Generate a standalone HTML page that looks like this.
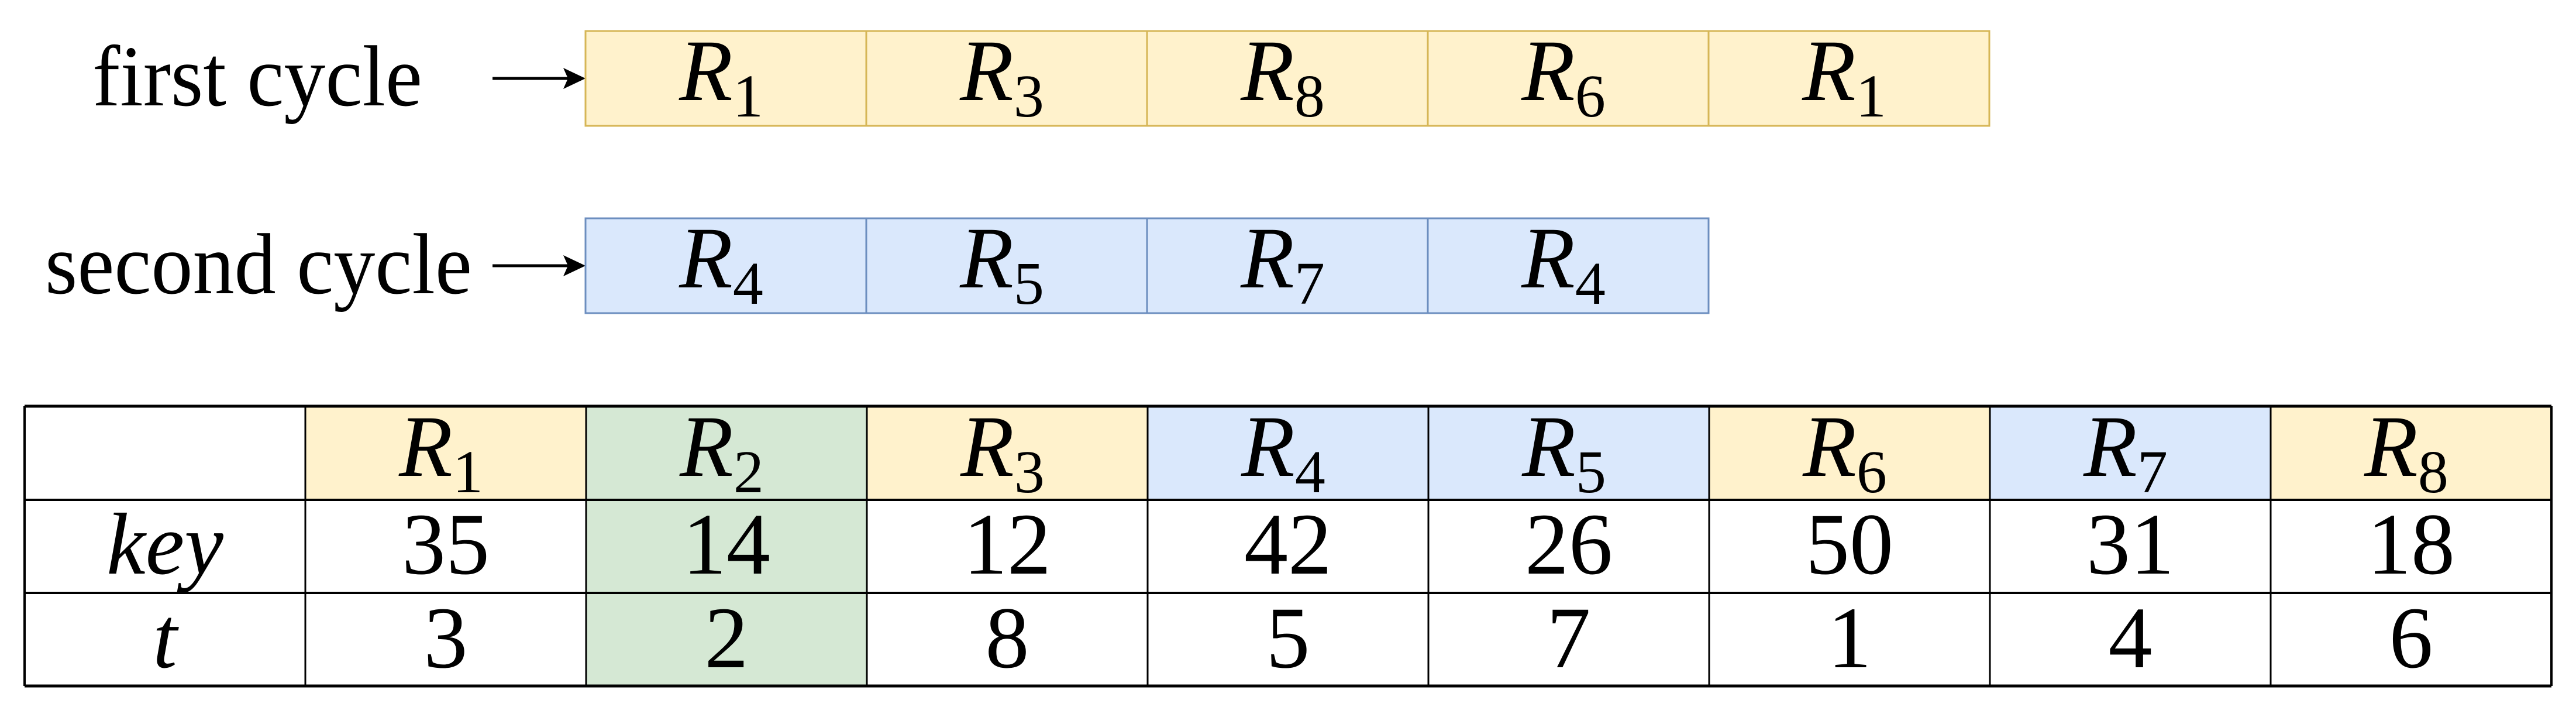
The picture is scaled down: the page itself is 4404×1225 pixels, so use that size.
<!DOCTYPE html>
<html><head><meta charset="utf-8"><style>
html,body{margin:0;padding:0;background:#fff;}
svg, svg text, svg tspan{font-family:"Liberation Serif","Times New Roman","DejaVu Serif",serif;}
</style></head><body>
<svg id="fig" width="4404" height="1220" viewBox="0 0 4404 1220" xmlns="http://www.w3.org/2000/svg" font-family="'Liberation Serif', 'DejaVu Serif', serif">
<g><text x="158" y="180" font-size="148" textLength="564" lengthAdjust="spacingAndGlyphs">first cycle</text></g>
<g><text x="77" y="501" font-size="148" textLength="730" lengthAdjust="spacingAndGlyphs">second cycle</text></g>
<g><line x1="842" y1="134" x2="975" y2="134" stroke="#000" stroke-width="5"/><path d="M1001,134 L963,116 L971,134 L963,152 Z" fill="#000"/></g>
<g><line x1="842" y1="454" x2="975" y2="454" stroke="#000" stroke-width="5"/><path d="M1001,454 L963,436 L971,454 L963,472 Z" fill="#000"/></g>
<g id="cycles"></g>
<g id="table"></g>
</svg>
<script>
const cycle1 = [1, 3, 8, 6, 1];
const cycle2 = [4, 5, 7, 4];
const regs = [1, 2, 3, 4, 5, 6, 7, 8];
const keys = [35, 14, 12, 42, 26, 50, 31, 18];
const times = [3, 2, 8, 5, 7, 1, 4, 6];
const groups = ['y', 'g', 'y', 'b', 'b', 'y', 'b', 'y'];

const NS = 'http://www.w3.org/2000/svg';
const FONT = "'Liberation Serif', 'DejaVu Serif', serif";
const fills = {y: '#fff2cc', b: '#dae8fc', g: '#d5e8d4', w: '#ffffff'};
function mk(tag, attrs, parent) {
  const e = document.createElementNS(NS, tag);
  for (const k in attrs) e.setAttribute(k, attrs[k]);
  if (tag === 'text') e.setAttribute('font-family', FONT);
  parent.appendChild(e);
  return e;
}
function rLabel(parent, cx, base, n) {
  const t = mk('text', {x: cx - 8, y: base, 'font-size': 150, 'text-anchor': 'middle'}, parent);
  const a = mk('tspan', {'font-style': 'italic'}, t); a.textContent = 'R';
  const b = mk('tspan', {'font-size': 104, dy: 28}, t); b.textContent = String(n);
  return t;
}
const cg = document.getElementById('cycles');
function drawCycle(arr, top, bottom, fill, stroke, name) {
  const g = mk('g', {}, cg);
  
  
  arr.forEach((v, i) => {
    const x = 1001 + i * 480;
    const c = mk('g', {}, g);
    
    
    mk('rect', {x: x, y: top, width: 480, height: bottom - top, fill: fill, stroke: stroke, 'stroke-width': 3}, c);
    rLabel(c, x + 240, top + 118, v);
  });
}
drawCycle(cycle1, 53, 215, fills.y, '#d6b656', 'first-cycle-row');
drawCycle(cycle2, 373, 535, fills.b, '#6c8ebf', 'second-cycle-row');

const tg = document.getElementById('table');


const rowY = [694, 854, 1013, 1172];
const colX = i => 522 + i * 480;
regs.forEach((r, i) => {
  const x = colX(i);
  const gf = groups[i];
  const hf = fills[gf];
  const bf = gf === 'g' ? fills.g : fills.w;
  const hc = mk('g', {}, tg);
  
  
  mk('rect', {x: x, y: rowY[0], width: 480, height: rowY[1] - rowY[0], fill: hf}, hc);
  rLabel(hc, x + 240, rowY[0] + 119, r);
  const kc = mk('g', {}, tg);
  
  
  mk('rect', {x: x, y: rowY[1], width: 480, height: rowY[2] - rowY[1], fill: bf}, kc);
  const kt = mk('text', {x: x + 240, y: rowY[1] + 126, 'font-size': 150, 'text-anchor': 'middle'}, kc);
  kt.textContent = String(keys[i]);
  const tc = mk('g', {}, tg);
  
  
  mk('rect', {x: x, y: rowY[2], width: 480, height: rowY[3] - rowY[2], fill: bf}, tc);
  const tt = mk('text', {x: x + 240, y: rowY[2] + 127, 'font-size': 150, 'text-anchor': 'middle'}, tc);
  tt.textContent = String(times[i]);
});
const kl = mk('text', {x: 282, y: rowY[1] + 126, 'font-size': 150, 'text-anchor': 'middle', 'font-style': 'italic'}, tg);


kl.textContent = 'key';
const tl = mk('text', {x: 282, y: rowY[2] + 127, 'font-size': 150, 'text-anchor': 'middle', 'font-style': 'italic'}, tg);


tl.textContent = 't';
rowY.forEach((y, i) => {
  mk('line', {x1: 42, y1: y, x2: 4362, y2: y, stroke: '#000', 'stroke-width': (i === 0 || i === 3) ? 5 : 4}, tg);
});
mk('line', {x1: 42, y1: rowY[0], x2: 42, y2: rowY[3], stroke: '#000', 'stroke-width': 4}, tg);
for (let i = 0; i <= regs.length; i++) {
  const x = colX(i);
  mk('line', {x1: x, y1: rowY[0], x2: x, y2: rowY[3], stroke: '#000', 'stroke-width': i === regs.length ? 4 : 3}, tg);
}
</script>
</body></html>
